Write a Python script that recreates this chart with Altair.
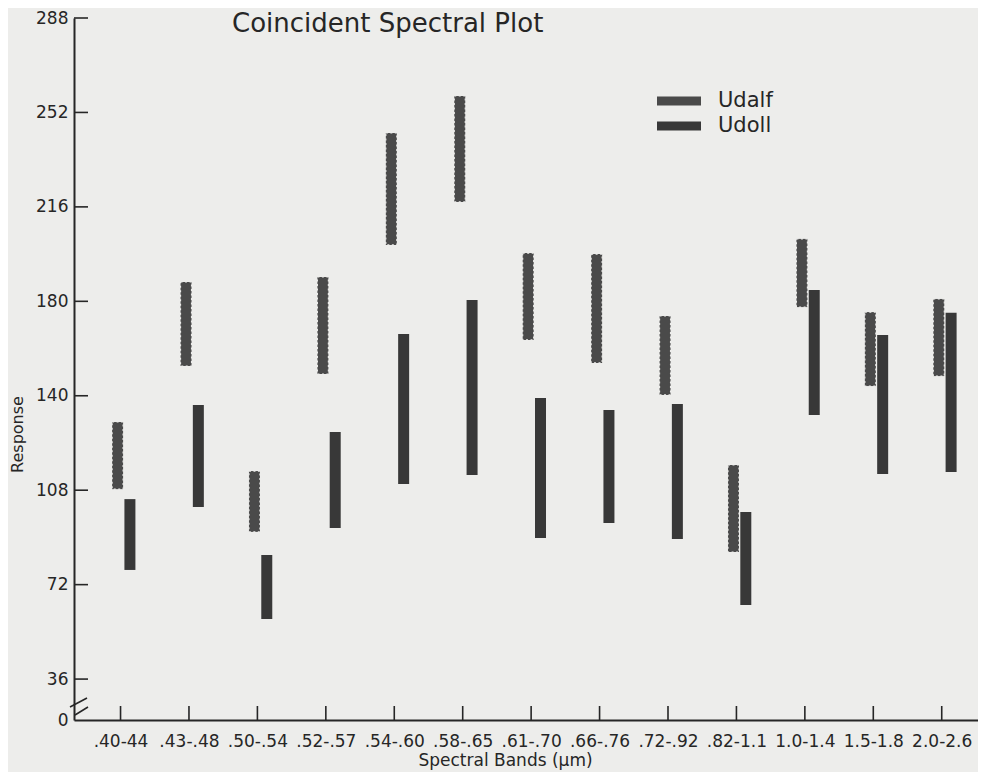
import altair as alt
import pandas as pd

# ---------------- data ----------------
bands = [".40-44", ".43-.48", ".50-.54", ".52-.57", ".54-.60", ".58-.65", ".61-.70",
         ".66-.76", ".72-.92", ".82-1.1", "1.0-1.4", "1.5-1.8", "2.0-2.6"]
series_names = ["Udalf", "Udoll"]

udalf_low = [108.4, 155.3, 92.1, 152.3, 201.5, 217.9, 165.3, 156.5, 144.3, 84.4, 177.8, 147.7, 151.5]
udalf_high = [134.0, 187.4, 115.3, 189.3, 244.2, 258.3, 198.4, 198.0, 174.4, 117.6, 203.8, 175.9, 180.9]
udoll_low = [77.6, 101.6, 58.9, 93.6, 110.4, 113.8, 89.8, 95.5, 89.4, 64.2, 136.7, 114.2, 114.9]
udoll_high = [104.6, 140.5, 83.3, 130.2, 167.5, 180.5, 143.1, 138.6, 140.9, 99.7, 184.3, 167.2, 175.6]

y_tick_values = [20.4, 36, 72, 108, 144, 180, 216, 252, 288]
y_tick_labels = ["0", "36", "72", "108", "140", "180", "216", "252", "288"]

chart_title = "Coincident Spectral Plot"
x_title = "Spectral Bands (μm)"
y_title = "Response"

# ---------------- build table ----------------
rows = []
for i, b in enumerate(bands):
    rows.append({"idx": i, "band": b, "series": "Udalf", "low": udalf_low[i], "high": udalf_high[i]})
    rows.append({"idx": i, "band": b, "series": "Udoll", "low": udoll_low[i], "high": udoll_high[i]})
df = pd.DataFrame(rows)

W, H = 904, 702
BG = "#ededeb"
INK = "#262626"
FONT = "DejaVu Sans"


def ternary(pairs, default="''"):
    expr = default
    for v, lab in reversed(pairs):
        expr = f"(abs(datum.value - {v}) < 0.01 ? '{lab}' : {expr})"
    return expr


x_label_expr = ternary(list(zip(range(len(bands)), bands)))
y_label_expr = ternary(list(zip(y_tick_values, y_tick_labels)))

x_scale = alt.Scale(domain=[-0.607, 12.457], nice=False, zero=False)
y_scale = alt.Scale(domain=[y_tick_values[0], 288], nice=False, zero=False)

x_axis = alt.Axis(
    values=list(range(len(bands))), labelExpr=x_label_expr, ticks=False, grid=False,
    domainColor=INK, domainWidth=2, labelPadding=13, labelFontSize=17, labelColor=INK,
    labelFont=FONT, title=x_title, titleX=431, titleY=40,
    titleFontSize=17, titleFontWeight="normal", titleFont=FONT, titleColor=INK,
    titleBaseline="middle", titleAlign="center",
)
y_axis = alt.Axis(
    values=y_tick_values, labelExpr=y_label_expr, ticks=False, grid=False,
    domainColor=INK, domainWidth=2, labelPadding=6, labelFontSize=17, labelColor=INK,
    labelFont=FONT, labelBaseline="middle", title=y_title, titleAngle=270, titleX=-57,
    titleY=416, titleFontSize=16, titleFontWeight="normal", titleFont=FONT,
    titleColor=INK, titleAlign="center", titleBaseline="middle",
)

base = alt.Chart(df).transform_calculate(
    xpos="datum.idx + (datum.series == 'Udalf' ? -0.043 : 0.137)"
)

bars = base.mark_bar(width=11).encode(
    x=alt.X("xpos:Q", scale=x_scale, axis=x_axis),
    y=alt.Y("low:Q", scale=y_scale, axis=y_axis),
    y2="high:Q",
    color=alt.Color(
        "series:N",
        scale=alt.Scale(domain=series_names, range=["#4a4a4a", "#383838"]),
        legend=alt.Legend(
            title=None, orient="none", legendX=594, legendY=72,
            symbolType="M-2,-0.4L2,-0.4L2,0.4L-2,0.4Z", symbolSize=484,
            symbolStrokeWidth=0, symbolOpacity=1, labelFontSize=21, labelFont=FONT,
            labelColor=INK, labelOffset=28, rowPadding=4, padding=0,
        ),
    ),
)

notches = base.transform_filter("datum.series == 'Udalf'").mark_bar(
    width=11, fillOpacity=0, stroke=BG, strokeWidth=1.2, strokeDash=[2, 2.5]
).encode(
    x=alt.X("xpos:Q", scale=x_scale, axis=x_axis),
    y=alt.Y("low:Q", scale=y_scale, axis=y_axis),
    y2="high:Q",
)

ytick_df = pd.DataFrame({"v": y_tick_values[1:]})
yticks = alt.Chart(ytick_df).mark_rule(color=INK, strokeWidth=1.6).encode(
    y=alt.Y("v:Q", scale=y_scale, axis=y_axis), x=alt.value(0), x2=alt.value(14)
)

xtick_df = pd.DataFrame({"i": list(range(len(bands)))})
xticks = alt.Chart(xtick_df).mark_rule(color=INK, strokeWidth=1.6).encode(
    x=alt.X("i:Q", scale=x_scale, axis=x_axis), y=alt.value(H), y2=alt.value(H - 14)
)

one = pd.DataFrame({"k": [0]})
slash1 = alt.Chart(one).mark_rule(color=INK, strokeWidth=1.6).encode(
    x=alt.value(-4), x2=alt.value(13), y=alt.value(H - 13), y2=alt.value(H - 22)
)
slash2 = alt.Chart(one).mark_rule(color=INK, strokeWidth=1.6).encode(
    x=alt.value(1), x2=alt.value(14), y=alt.value(H - 5), y2=alt.value(H - 13)
)

title_text = alt.Chart(one).mark_text(
    align="left", baseline="alphabetic", fontSize=26, font=FONT, color=INK
).encode(x=alt.value(158), y=alt.value(14), text=alt.value(chart_title))

chart = alt.layer(bars, notches, yticks, xticks, slash1, slash2, title_text).properties(
    width=W,
    height=H,
    autosize=alt.AutoSizeParams(type="none"),
    padding={"left": 66, "top": 10, "right": 0, "bottom": 52},
).configure(background=BG).configure_view(stroke=None)

chart.save("out.html", embed_options={"renderer": "svg", "actions": False})
